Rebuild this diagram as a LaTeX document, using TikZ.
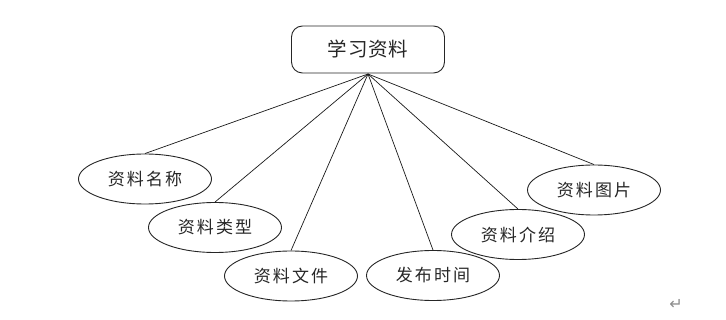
\documentclass[tikz,border=0pt]{standalone}
\usepackage{fontspec}
\newfontfamily\cjktop[LetterSpace=4]{Noto Sans CJK SC}
\newfontfamily\cjksp[LetterSpace=12]{Noto Sans CJK SC}
\newfontfamily\symfont{DejaVu Sans}
\usetikzlibrary{shapes.geometric}
\tikzset{
  topbox/.style={draw=black!85, line width=0.9pt, rounded corners=11pt, minimum width=153pt, minimum height=47pt, inner sep=0pt, font=\cjktop\fontsize{19.5}{19.5}\selectfont, text=black!85},
  leaf/.style={draw=black!85, line width=0.9pt, ellipse, minimum width=133pt, minimum height=50pt, inner sep=0pt, font=\cjksp\fontsize{17}{17}\selectfont, text=black!85},
  link/.style={draw=black!90, line width=0.7pt}
}
\begin{document}
\begin{tikzpicture}[x=1pt,y=-1pt]
\useasboundingbox (0,0) rectangle (726,320);
\node[topbox] (top) at (368,49.5) {学习资料};
\node[leaf] (e1) at (145,179) {资料名称};
\node[leaf] (e2) at (215,227.5) {资料类型};
\node[leaf] (e3) at (291,276) {资料文件};
\node[leaf] (e4) at (433,275.5) {发布时间};
\node[leaf] (e5) at (518,234.5) {资料介绍};
\node[leaf] (e6) at (594,190) {资料图片};
\coordinate (apex) at (368,74);
\foreach \e in {e1,e2,e3,e4,e5,e6} \draw[link] (apex) -- (\e.north);
\node[text=black!45, font=\symfont\fontsize{16}{16}\selectfont] (ret) at (676,304) {↵};
\end{tikzpicture}
\end{document}
